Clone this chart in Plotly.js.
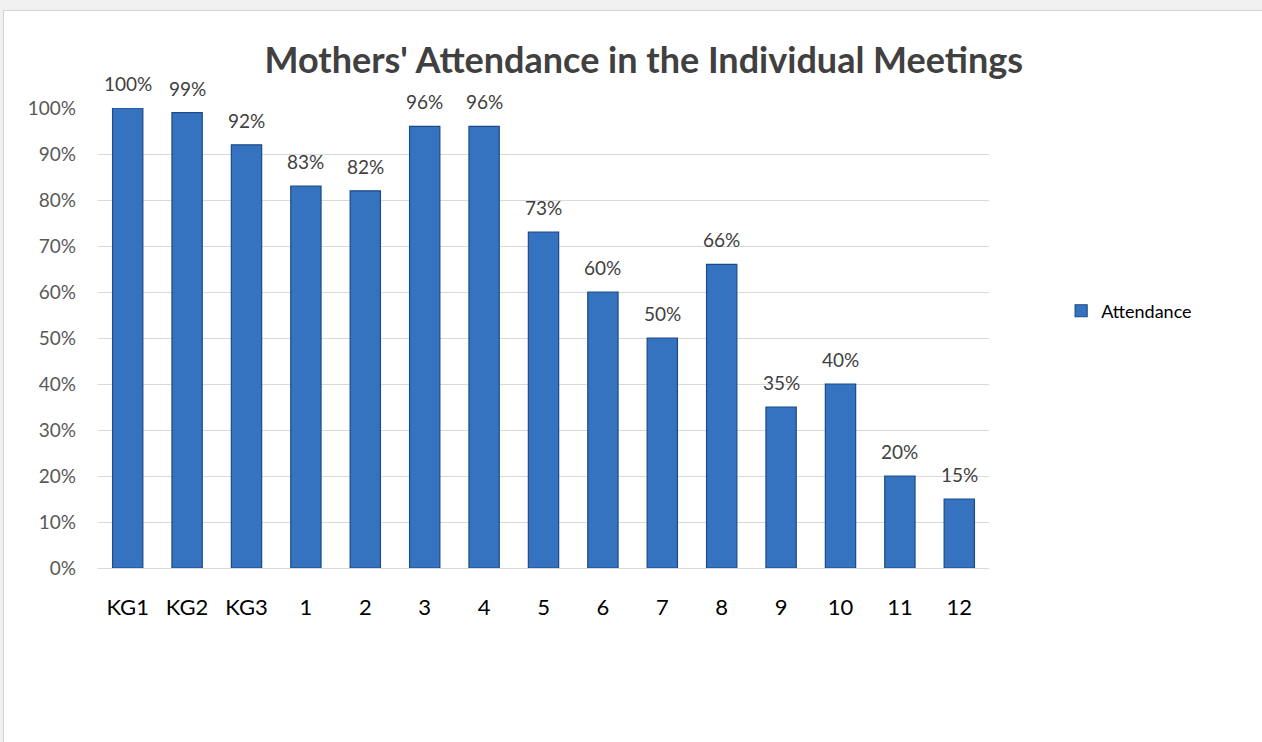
<!DOCTYPE html>
<html>
<head>
<meta charset="utf-8">
<script src="https://cdn.plot.ly/plotly-3.0.1.min.js"></script>
<style>
  html, body { margin: 0; padding: 0; background: #f0f0f0; width: 1262px; height: 742px; overflow: hidden; }
  #chart { position: absolute; left: 3px; top: 10px; width: 1258px; height: 731px; background: #fff;
           border-left: 1px solid #d4d4d4; border-top: 1px solid #d4d4d4; }
</style>
</head>
<body>
<div id="chart"></div>
<script>
const categories = ["KG1", "KG2", "KG3", "1", "2", "3", "4", "5", "6", "7", "8", "9", "10", "11", "12"];
const attendance = [1.00, 0.99, 0.92, 0.83, 0.82, 0.96, 0.96, 0.73, 0.60, 0.50, 0.66, 0.35, 0.40, 0.20, 0.15];
const seriesName = "Attendance";
const chartTitle = "Mothers' Attendance in the Individual Meetings";
const yTicks = [0, 0.1, 0.2, 0.3, 0.4, 0.5, 0.6, 0.7, 0.8, 0.9, 1.0];

const FONT = "Lato, 'Open Sans', sans-serif";

const trace = {
  type: "bar",
  x: categories,
  y: attendance,
  name: seriesName,
  marker: { color: "#3573c0", line: { color: "#1d4a85", width: 1.2 } },
  hoverinfo: "x+y"
};

// category axes place annotations by category index
const labels = categories.map((c, i) => ({
  x: i, y: attendance[i], xref: "x", yref: "y",
  text: Math.round(attendance[i] * 100) + "%",
  showarrow: false, yanchor: "bottom", yshift: 11,
  font: { family: FONT, size: 19, color: "#404040" }
}));

const layout = {
  width: 1257, height: 730,
  paper_bgcolor: "#ffffff", plot_bgcolor: "#ffffff",
  margin: { l: 94, r: 272, t: 97, b: 173 },
  bargap: 0.49,
  title: {
    text: chartTitle,
    font: { family: FONT, size: 36, color: "#404040", weight: "bold" },
    x: 0.509, xref: "container", xanchor: "center",
    y: 0.932, yref: "container", yanchor: "middle"
  },
  xaxis: {
    type: "category",
    tickfont: { family: FONT, size: 22, color: "#000000" },
    showgrid: false, showline: false, ticks: "", ticklabelstandoff: 24,
    fixedrange: true
  },
  yaxis: {
    range: [0, 1],
    tickvals: yTicks,
    tickformat: ".0%",
    tickfont: { family: FONT, size: 19, color: "#595959" },
    gridcolor: "#d9d9d9", gridwidth: 1,
    zeroline: true, zerolinecolor: "#d9d9d9", zerolinewidth: 1,
    showline: false, ticks: "", ticklabelstandoff: 21,
    fixedrange: true
  },
  annotations: labels,
  showlegend: true,
  legend: {
    xref: "container", yref: "container",
    x: 0.841, y: 0.589, xanchor: "left", yanchor: "middle",
    font: { family: FONT, size: 18, color: "#000000" },
    itemwidth: 30, bgcolor: "rgba(0,0,0,0)"
  }
};

Plotly.newPlot("chart", [trace], layout, { displayModeBar: false, staticPlot: true });
</script>
</body>
</html>
